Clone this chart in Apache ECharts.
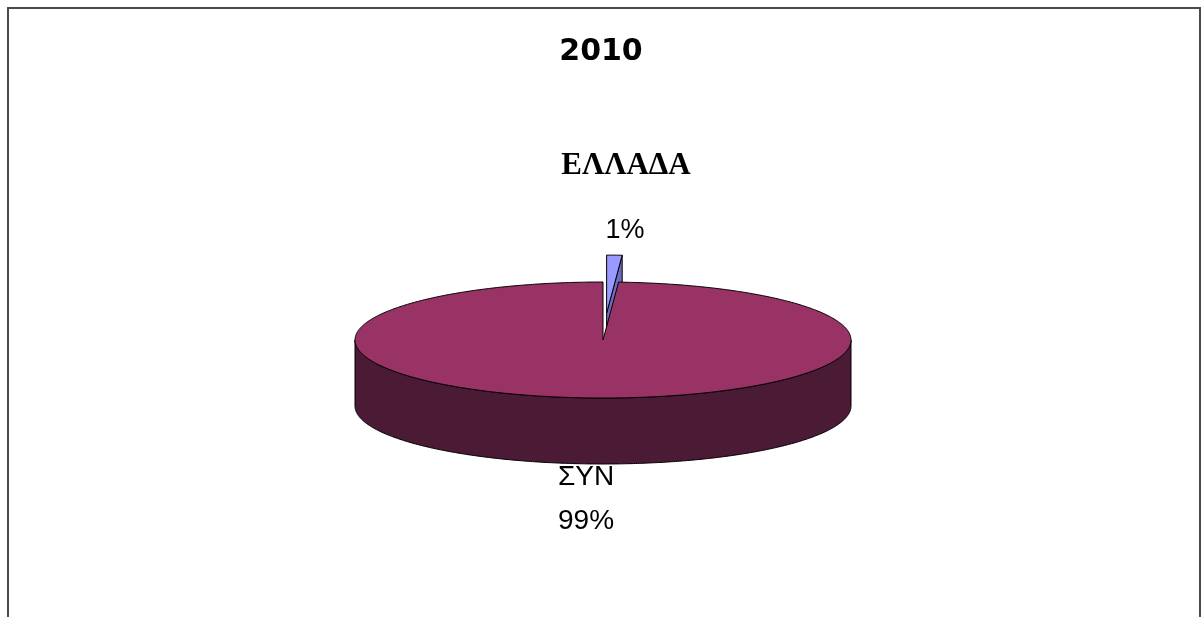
<!DOCTYPE html>
<html>
<head>
<meta charset="utf-8">
<script src="https://cdn.jsdelivr.net/npm/echarts@6/dist/echarts.min.js"></script>
<style>
  html, body { margin: 0; padding: 0; background: #ffffff; }
  #chart { width: 1202px; height: 617px; }
</style>
</head>
<body>
<div id="chart"></div>
<script>
// ---- data ----
const chartTitle = '2010';
const categories = ['ΕΛΛΑΔΑ', 'ΣΥΝ'];
const values = [1, 99];

// ---- look ----
const topColors = ['#9999FF', '#993366'];
const sideColors = ['#6B6BC0', '#4B1A34'];
const explodeDist = [115, 0];          // in-plane pull-out of each slice
const PIE = { cx: 603, cy: 340, rx: 248, ry: 58, depth: 66 };
const SANS = '"Liberation Sans", Arial, sans-serif';
const labelStyle = [
  { name: { x: 626, y: 166, align: 'center', font: 'bold 31px "Liberation Serif", "Times New Roman", serif' },
    pct:  { x: 625, y: 231, align: 'center', font: '27px ' + SANS } },
  { name: { x: 558, y: 477, align: 'left', font: '28px ' + SANS } ,
    pct:  { x: 558, y: 521, align: 'left', font: '28px ' + SANS } }
];

const total = values.reduce((a, b) => a + b, 0);
const startAngles = [];
(function () {
  let a = -Math.PI / 2;                 // first slice starts at 12 o'clock, clockwise
  values.forEach(v => { startAngles.push(a); a += v / total * Math.PI * 2; });
})();

function arcPoints(cx, cy, a0, a1, dy) {
  const n = Math.max(6, Math.ceil(Math.abs(a1 - a0) / (Math.PI / 360)));
  const pts = [];
  for (let i = 0; i <= n; i++) {
    const a = a0 + (a1 - a0) * i / n;
    pts.push([cx + PIE.rx * Math.cos(a), cy + dy + PIE.ry * Math.sin(a)]);
  }
  return pts;
}

function renderSlice(params, api) {
  const i = params.dataIndex;
  const v = api.value(0);
  const a0 = startAngles[i];
  const a1 = a0 + v / total * Math.PI * 2;
  const mid = (a0 + a1) / 2;
  const d = explodeDist[i];
  const ox = PIE.cx + d * Math.cos(mid);
  const oy = PIE.cy + d * (PIE.ry / PIE.rx) * Math.sin(mid);
  const D = PIE.depth;
  const edge = { stroke: '#000', lineWidth: 1 };
  const children = [];

  // radial cut faces that turn toward the viewer
  if (Math.cos(a1) > 1e-6) {
    const p = [ox + PIE.rx * Math.cos(a1), oy + PIE.ry * Math.sin(a1)];
    children.push({ type: 'polygon', silent: true,
      shape: { points: [[ox, oy], p, [p[0], p[1] + D], [ox, oy + D]] },
      style: Object.assign({ fill: sideColors[i] }, edge) });
  }
  if (Math.cos(a0) < -1e-6) {
    const p = [ox + PIE.rx * Math.cos(a0), oy + PIE.ry * Math.sin(a0)];
    children.push({ type: 'polygon', silent: true,
      shape: { points: [[ox, oy], p, [p[0], p[1] + D], [ox, oy + D]] },
      style: Object.assign({ fill: sideColors[i] }, edge) });
  }

  // outer rim: only the front half (0..PI) is visible
  [-2 * Math.PI, 0, 2 * Math.PI].forEach(shift => {
    const s = Math.max(a0, shift), e = Math.min(a1, shift + Math.PI);
    if (e > s) {
      const top = arcPoints(ox, oy, s, e, 0);
      const bot = arcPoints(ox, oy, s, e, D).reverse();
      children.push({ type: 'polygon', silent: true,
        shape: { points: top.concat(bot) },
        style: Object.assign({ fill: sideColors[i] }, edge) });
    }
  });

  // top face
  children.push({ type: 'polygon', silent: true,
    shape: { points: [[ox, oy]].concat(arcPoints(ox, oy, a0, a1, 0)) },
    style: Object.assign({ fill: topColors[i] }, edge) });

  // category name and share
  const ls = labelStyle[i];
  children.push({ type: 'text', silent: true,
    style: { text: categories[i], x: ls.name.x, y: ls.name.y, align: ls.name.align,
      verticalAlign: 'middle', font: ls.name.font, fill: '#000' } });
  children.push({ type: 'text', silent: true,
    style: { text: Math.round(v / total * 100) + '%', x: ls.pct.x, y: ls.pct.y, align: ls.pct.align,
      verticalAlign: 'middle', font: ls.pct.font, fill: '#000' } });

  return { type: 'group', children };
}

const chart = echarts.init(document.getElementById('chart'), null, { renderer: 'canvas' });
chart.setOption({
  animation: false,
  backgroundColor: '#ffffff',
  title: {
    text: chartTitle, left: 'center', top: 32,
    textStyle: { fontFamily: '"DejaVu Sans", Arial, sans-serif', fontWeight: 'bold', fontSize: 30, color: '#000' }
  },
  graphic: [{
    type: 'rect', silent: true, z: -1,
    shape: { x: 8, y: 8, width: 1192, height: 700 },
    style: { fill: 'none', stroke: '#4a4a4a', lineWidth: 2 }
  }],
  series: [{
    type: 'custom',
    coordinateSystem: 'none',
    renderItem: renderSlice,
    data: values.map((v, i) => ({ name: categories[i], value: [v] }))
  }]
});
</script>
</body>
</html>
